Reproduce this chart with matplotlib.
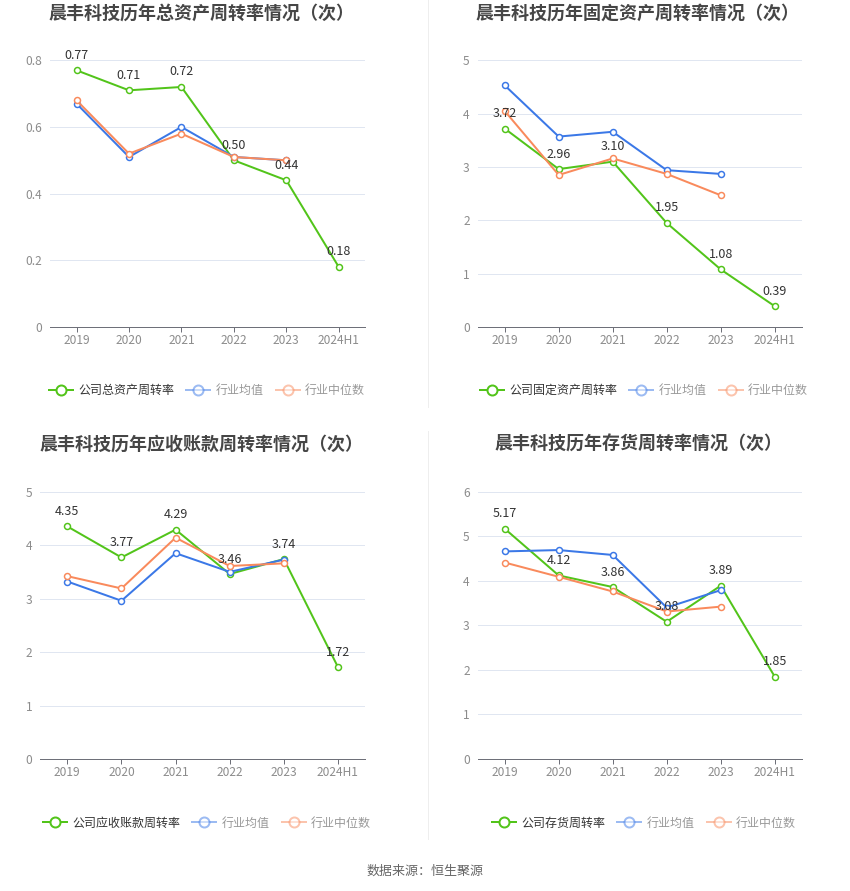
import matplotlib
matplotlib.use('Agg')
import matplotlib.pyplot as plt
from matplotlib.lines import Line2D

plt.rcParams['font.family'] = ['Noto Sans CJK SC', 'DejaVu Sans']

categories = ['2019', '2020', '2021', '2022', '2023', '2024H1']

titles = ['晨丰科技历年总资产周转率情况（次）',
          '晨丰科技历年固定资产周转率情况（次）',
          '晨丰科技历年应收账款周转率情况（次）',
          '晨丰科技历年存货周转率情况（次）']
company_names = ['公司总资产周转率', '公司固定资产周转率',
                 '公司应收账款周转率', '公司存货周转率']
mean_name = '行业均值'
median_name = '行业中位数'

total_asset_company = [0.77, 0.71, 0.72, 0.50, 0.44, 0.18]
total_asset_mean = [0.67, 0.51, 0.60, 0.51, 0.50]
total_asset_median = [0.68, 0.52, 0.58, 0.51, 0.50]

fixed_asset_company = [3.72, 2.96, 3.10, 1.95, 1.08, 0.39]
fixed_asset_mean = [4.53, 3.57, 3.66, 2.94, 2.87]
fixed_asset_median = [4.05, 2.85, 3.16, 2.87, 2.47]

receivable_company = [4.35, 3.77, 4.29, 3.46, 3.74, 1.72]
receivable_mean = [3.32, 2.96, 3.85, 3.50, 3.73]
receivable_median = [3.42, 3.19, 4.14, 3.61, 3.66]

inventory_company = [5.17, 4.12, 3.86, 3.08, 3.89, 1.85]
inventory_mean = [4.66, 4.69, 4.58, 3.40, 3.79]
inventory_median = [4.41, 4.09, 3.76, 3.31, 3.42]

yticks_list = [[0, 0.2, 0.4, 0.6, 0.8], [0, 1, 2, 3, 4, 5],
               [0, 1, 2, 3, 4, 5], [0, 1, 2, 3, 4, 5, 6]]
ytick_labels_list = [['0', '0.2', '0.4', '0.6', '0.8'],
                     ['0', '1', '2', '3', '4', '5'],
                     ['0', '1', '2', '3', '4', '5'],
                     ['0', '1', '2', '3', '4', '5', '6']]

W, H = 850, 891
PX = 72 / 100.0  # points per pixel

GREEN = '#52c41a'
BLUE = '#3b78e7'
ORANGE = '#f98a5c'

fig = plt.figure(figsize=(W / 100, H / 100), dpi=100)
fig.patch.set_facecolor('white')

# panel layout in pixels: (x0, x1, ytop, ybottom), title center, legend center
panels = [
    dict(box=(50.3, 365, 60.3, 327), title=(202, 13.5), legend=(207, 390.7)),
    dict(box=(477.7, 801.7, 60.3, 327), title=(638, 13.5), legend=(644, 390.7)),
    dict(box=(40.3, 365, 491.7, 759), title=(202, 445), legend=(207, 823)),
    dict(box=(477.7, 801.7, 491.7, 759), title=(639, 445), legend=(644, 823)),
]

datasets = [
    (total_asset_company, total_asset_mean, total_asset_median),
    (fixed_asset_company, fixed_asset_mean, fixed_asset_median),
    (receivable_company, receivable_mean, receivable_median),
    (inventory_company, inventory_mean, inventory_median),
]

for k, (p, (comp, mean, med)) in enumerate(zip(panels, datasets)):
    x0, x1, yt, yb = p['box']
    ax = fig.add_axes([x0 / W, 1 - yb / H, (x1 - x0) / W, (yb - yt) / H])
    xs = list(range(len(categories)))
    yt_vals = yticks_list[k]
    ax.set_xlim(-0.5, len(categories) - 0.5)
    ax.set_ylim(yt_vals[0], yt_vals[-1])
    for v in yt_vals[1:]:
        ax.axhline(v, color='#e0e6f1', lw=1 * PX, zorder=0)
    for s in ['top', 'right', 'left']:
        ax.spines[s].set_visible(False)
    ax.spines['bottom'].set_color('#6e7079')
    ax.spines['bottom'].set_linewidth(1 * PX)
    ax.set_xticks(xs)
    ax.set_xticklabels(categories)
    ax.set_yticks(yt_vals)
    ax.set_yticklabels(ytick_labels_list[k])
    ax.tick_params(axis='x', length=5 * PX, width=1 * PX, color='#6e7079',
                   pad=1.5, labelsize=12 * PX, labelcolor='#8c8c8c')
    ax.tick_params(axis='y', length=0, pad=8 * PX, labelsize=12 * PX,
                   labelcolor='#8c8c8c')

    kw = dict(lw=2 * PX, marker='o', markersize=6 * PX, markerfacecolor='white',
              markeredgewidth=1.5 * PX, clip_on=False)
    ax.plot(xs, comp, color=GREEN, zorder=3, **kw)
    ax.plot(xs[:len(mean)], mean, color=BLUE, zorder=4, **kw)
    ax.plot(xs[:len(med)], med, color=ORANGE, zorder=5, **kw)
    for i, v in enumerate(comp):
        ax.annotate(f'{v:.2f}', (i, v), xytext=(0, 15 * PX),
                    textcoords='offset points', ha='center', va='center',
                    fontsize=12.5 * PX, color='#333333', zorder=6)

    tx, ty = p['title']
    fig.text(tx / W, 1 - ty / H, titles[k], ha='center', va='center',
             fontsize=18 * PX, fontweight='bold', color='#464646')

    hkw = dict(lw=2 * PX, marker='o', markersize=10 * PX,
               markerfacecolor='white', markeredgewidth=2 * PX)
    handles = [Line2D([], [], color=GREEN, **hkw),
               Line2D([], [], color=BLUE, alpha=0.5, **hkw),
               Line2D([], [], color=ORANGE, alpha=0.5, **hkw)]
    lx, ly = p['legend']
    leg = ax.legend(handles, [company_names[k], mean_name, median_name],
                    loc='center', bbox_to_anchor=(lx / W, 1 - ly / H),
                    bbox_transform=fig.transFigure, ncol=3, frameon=False,
                    fontsize=12 * PX, handlelength=2.0, handletextpad=0.45,
                    columnspacing=1.0, borderpad=0, borderaxespad=0)
    for j, t in enumerate(leg.get_texts()):
        t.set_color('#333333' if j == 0 else '#999999')

# separators
fig.add_artist(Line2D([427.5 / W] * 2, [1 - 0 / H, 1 - 407 / H],
                      transform=fig.transFigure, color='#eeeeee', lw=1 * PX))
fig.add_artist(Line2D([427.5 / W] * 2, [1 - 431 / H, 1 - 839 / H],
                      transform=fig.transFigure, color='#eeeeee', lw=1 * PX))

fig.text(425 / W, 1 - 871.5 / H, '数据来源：恒生聚源', ha='center', va='center',
         fontsize=13 * PX, color='#666666')

fig.savefig('out.png', dpi=100, facecolor='white')
